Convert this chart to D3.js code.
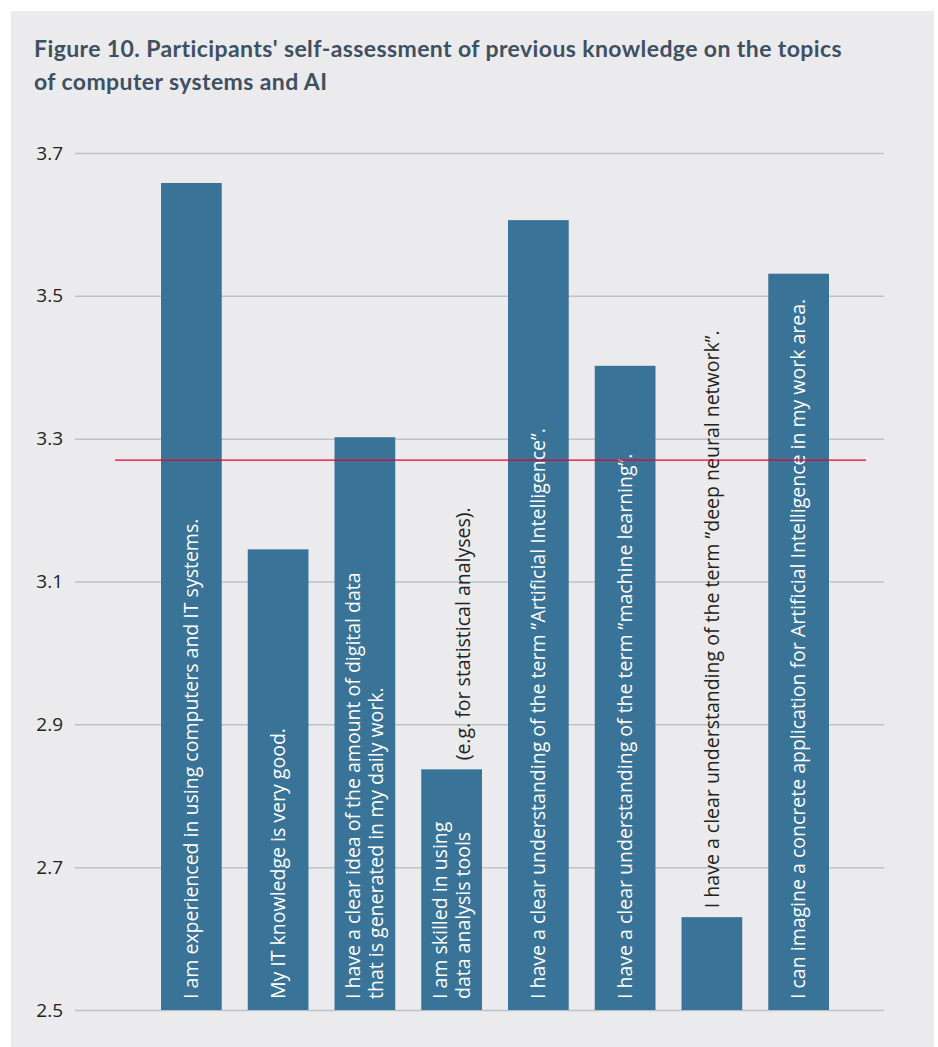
<!DOCTYPE html>
<html>
<head>
<meta charset="utf-8">
<script src="https://cdn.jsdelivr.net/npm/d3@7"></script>
<style>
  body { margin: 0; background: #ffffff; }
  svg { display: block; }
</style>
</head>
<body>
<svg id="chart"></svg>
<script>

// data
var titleLines = [
    "Figure 10. Participants' self-assessment of previous knowledge on the topics",
    "of computer systems and AI"
];
var values = [3.658, 3.145, 3.302, 2.837, 3.606, 3.402, 2.630, 3.531];
var average = 3.27;
var yTicks = [2.5, 2.7, 2.9, 3.1, 3.3, 3.5, 3.7];

// label lines written inside the bar (white) and lines that spill above it (dark)
var labelsInside = [
    ["I am experienced in using computers and IT systems."],
    ["My IT knowledge is very good."],
    ["I have a clear idea of the amount of digital data", "that is generated in my daily work."],
    ["I am skilled in using", "data analysis tools"],
    ["I have a clear understanding of the term \u201DArtificial Intelligence\u201D."],
    ["I have a clear understanding of the term \u201Dmachine learning\u201D."],
    [],
    ["I can imagine a concrete application for Artificial Intelligence in my work area."]
];
var labelsAbove = [
    [], [], [],
    ["(e.g. for statistical analyses)."],
    [], [],
    ["I have a clear understanding of the term \u201Ddeep neural network\u201D."],
    []
];


BarChart = function(_parentElement) {
    this.parentElement = _parentElement;
    this.width = 938;
    this.height = 1047;
    this.initVis();
}

BarChart.prototype.initVis = function() {
    var vis = this;

    vis.svg = d3.select("#" + vis.parentElement)
        .attr("width", vis.width)
        .attr("height", vis.height);

    // grey panel
    vis.svg.append("rect")
        .attr("x", 11).attr("y", 11)
        .attr("width", 923).attr("height", 1036)
        .attr("fill", "#ebebed");

    vis.svg.selectAll(".title")
        .data(titleLines)
        .enter()
        .append("text")
        .attr("class", "title")
        .attr("x", 34)
        .attr("y", function(d, i) { return 57 + i * 33; })
        .attr("fill", "#3e5062")
        .style("font-family", "Lato, sans-serif")
        .style("font-weight", "bold")
        .style("font-size", "23px")
        .style("letter-spacing", "0.4px")
        .text(function(d) { return d; });

    vis.x = d3.scaleBand()
        .domain(d3.range(values.length))
        .range([148, 842])
        .paddingInner(0.3)
        .paddingOuter(0.15);

    vis.y = d3.scaleLinear()
        .domain([2.5, 3.7])
        .range([1010, 153]);

    vis.updateVis();
}

BarChart.prototype.updateVis = function() {
    var vis = this;

    // y axis + gridlines
    var yAxis = d3.axisLeft(vis.y)
        .tickValues(yTicks)
        .tickFormat(d3.format(".1f"))
        .tickSizeInner(-(884 - 75))
        .tickSizeOuter(0)
        .tickPadding(12);

    var axisG = vis.svg.append("g")
        .attr("transform", "translate(75,0)")
        .call(yAxis);
    axisG.select(".domain").remove();
    axisG.selectAll(".tick line")
        .attr("stroke", "#bcc2ca")
        .attr("stroke-width", 1.5);
    axisG.selectAll(".tick text")
        .attr("fill", "#222222")
        .style("font-family", "'Open Sans', sans-serif")
        .style("font-size", "19px");

    // bars
    vis.svg.selectAll(".bar")
        .data(values)
        .enter()
        .append("rect")
        .attr("class", "bar")
        .attr("x", function(d, i) { return vis.x(i); })
        .attr("y", function(d) { return vis.y(d); })
        .attr("width", vis.x.bandwidth())
        .attr("height", function(d) { return vis.y(2.5) - vis.y(d); })
        .attr("fill", "#3a7398");

    var lineGap = 23;
    var labelSize = "19.5px";

    // labels inside the bars
    var bottom = vis.y(2.5) - 11;
    values.forEach(function(v, i) {
        var inside = labelsInside[i];
        var above = labelsAbove[i];
        var cols = Math.max(inside.length, 1);
        var cx = vis.x(i) + vis.x.bandwidth() / 2;

        inside.forEach(function(line, k) {
            var lx = cx + (k - (cols - 1) / 2) * lineGap;
            vis.svg.append("text")
                .attr("class", "bar-label")
                .attr("transform", "translate(" + lx + "," + bottom + ") rotate(-90)")
                .attr("dy", "0.35em")
                .attr("fill", "#ffffff")
                .style("font-family", "'Open Sans', sans-serif")
                .style("font-size", labelSize)
                .text(line);
        });

        above.forEach(function(line) {
            var lx = cx + ((cols - 1) / 2) * lineGap;
            vis.svg.append("text")
                .attr("class", "bar-label-above")
                .attr("transform", "translate(" + lx + "," + (vis.y(v) - 9) + ") rotate(-90)")
                .attr("dy", "0.35em")
                .attr("fill", "#222222")
                .style("font-family", "'Open Sans', sans-serif")
                .style("font-size", labelSize)
                .text(line);
        });
    });

    // mean line
    vis.svg.append("line")
        .attr("x1", 115).attr("x2", 866)
        .attr("y1", vis.y(average)).attr("y2", vis.y(average))
        .attr("stroke", "#e4032e")
        .attr("stroke-width", 1.2);
}

var chart = new BarChart("chart");

</script>
</body>
</html>
